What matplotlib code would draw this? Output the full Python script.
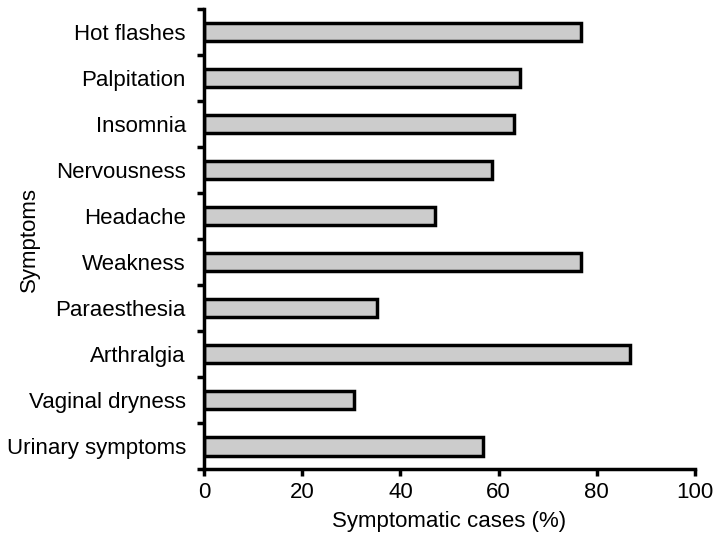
import matplotlib
matplotlib.use('Agg')
import matplotlib.pyplot as plt
import numpy as np

plt.rcParams['font.family'] = ['Liberation Sans', 'DejaVu Sans']

symptoms = ['Hot flashes', 'Palpitation', 'Insomnia', 'Nervousness', 'Headache',
            'Weakness', 'Paraesthesia', 'Arthralgia', 'Vaginal dryness',
            'Urinary symptoms']
cases = [76.7, 64.3, 63.1, 58.7, 47.1, 76.7, 35.2, 86.8, 30.5, 56.8]

fig = plt.figure(figsize=(7.25, 5.36), dpi=100)
ax = fig.add_axes([0.2814, 0.1244, 0.6772, 0.8588])

# categories top to bottom
pos = np.arange(len(symptoms))[::-1] + 0.5
ax.barh(pos, cases, height=0.4, color='#cccccc', edgecolor='black', linewidth=2.5)

ax.set_xlim(0, 100)
ax.set_ylim(0, len(symptoms))

# tick marks on category boundaries, labels at the centres
ax.set_yticks(np.arange(len(symptoms) + 1))
ax.set_yticklabels([])
ax.set_yticks(pos, minor=True)
ax.set_yticklabels(symptoms, minor=True, fontsize=16)
ax.tick_params(axis='y', which='major', length=5, width=2.5, direction='out')
ax.tick_params(axis='y', which='minor', length=0, pad=13)

ax.set_xticks([0, 20, 40, 60, 80, 100])
ax.tick_params(axis='x', length=5, width=2.5, labelsize=16, pad=4)

for s in ['top', 'right']:
    ax.spines[s].set_visible(False)
for s in ['left', 'bottom']:
    ax.spines[s].set_linewidth(2.5)

ax.set_xlabel('Symptomatic cases (%)', fontsize=16, labelpad=6)
ax.set_ylabel('Symptoms', fontsize=16)
ax.yaxis.set_label_coords(-0.334, 0.5)

fig.savefig('out.png', dpi=100)
